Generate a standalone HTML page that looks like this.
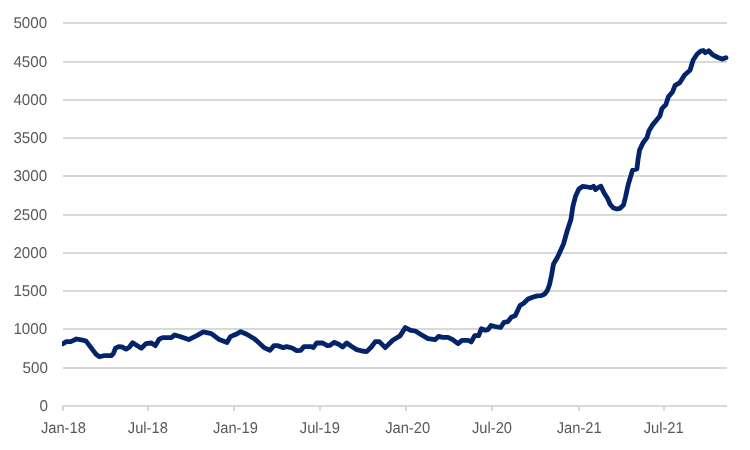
<!DOCTYPE html>
<html><head><meta charset="utf-8"><title>Chart</title>
<style>
html,body{margin:0;padding:0;background:#fff;}
body{width:750px;height:450px;overflow:hidden;}
svg{display:block;text-rendering:geometricPrecision;}
text{font-family:"Liberation Sans",sans-serif;fill:#595959;}
.yl text{font-size:15.6px;}
.xl text{font-size:15.6px;}
</style></head><body>
<svg width="750" height="450" viewBox="0 0 750 450">
<rect width="750" height="450" fill="#fff"/>
<g fill="#d9d9d9" shape-rendering="crispEdges">
<rect x="63" y="405" width="664" height="2"/>
<rect x="63" y="367" width="664" height="2"/>
<rect x="63" y="328" width="664" height="2"/>
<rect x="63" y="290" width="664" height="2"/>
<rect x="63" y="252" width="664" height="2"/>
<rect x="63" y="214" width="664" height="2"/>
<rect x="63" y="175" width="664" height="2"/>
<rect x="63" y="137" width="664" height="2"/>
<rect x="63" y="99" width="664" height="2"/>
<rect x="63" y="61" width="664" height="2"/>
<rect x="63" y="22" width="664" height="2"/>
<rect x="62" y="405" width="2" height="6"/>
<rect x="147" y="405" width="2" height="6"/>
<rect x="233" y="405" width="2" height="6"/>
<rect x="319" y="405" width="2" height="6"/>
<rect x="405" y="405" width="2" height="6"/>
<rect x="491" y="405" width="2" height="6"/>
<rect x="578" y="405" width="2" height="6"/>
<rect x="663" y="405" width="2" height="6"/>
</g>
<g class="yl" text-anchor="end">
<text transform="translate(47.9,411.0) scale(0.973,1)">0</text>
<text transform="translate(47.9,373.0) scale(0.973,1)">500</text>
<text transform="translate(47.2,334.0) scale(0.973,1)">1000</text>
<text transform="translate(47.2,296.0) scale(0.973,1)">1500</text>
<text transform="translate(47.2,258.0) scale(0.973,1)">2000</text>
<text transform="translate(47.2,220.0) scale(0.973,1)">2500</text>
<text transform="translate(47.2,181.0) scale(0.973,1)">3000</text>
<text transform="translate(47.2,143.0) scale(0.973,1)">3500</text>
<text transform="translate(47.2,105.0) scale(0.973,1)">4000</text>
<text transform="translate(47.2,67.0) scale(0.973,1)">4500</text>
<text transform="translate(47.2,28.0) scale(0.973,1)">5000</text>
</g>
<g class="xl" text-anchor="middle">
<text transform="translate(63.4,433.2) scale(0.942,1)">Jan-18</text>
<text transform="translate(147.8,433.2) scale(0.942,1)">Jul-18</text>
<text transform="translate(235.4,433.2) scale(0.942,1)">Jan-19</text>
<text transform="translate(319.8,433.2) scale(0.942,1)">Jul-19</text>
<text transform="translate(407.6,433.2) scale(0.942,1)">Jan-20</text>
<text transform="translate(492.0,433.2) scale(0.942,1)">Jul-20</text>
<text transform="translate(579.2,433.2) scale(0.942,1)">Jan-21</text>
<text transform="translate(663.7,433.2) scale(0.942,1)">Jul-21</text>
</g>
<clipPath id="c"><rect x="62.1" y="0" width="688" height="450"/></clipPath>
<path d="M59.5,344.6 L63.0,343.6 L66.4,341.6 L70.7,341.6 L76.5,339.0 L81.3,339.8 L86.1,341.1 L96.3,354.6 L99.5,356.8 L103.7,355.7 L111.2,355.7 L113.3,353.6 L115.5,348.2 L118.7,346.6 L121.9,346.8 L126.1,349.1 L129.3,347.2 L132.6,342.8 L141.3,348.3 L146.0,343.6 L151.3,343.0 L155.3,345.6 L159.3,339.0 L163.3,337.6 L171.3,337.6 L174.7,335.0 L180.7,336.7 L188.7,339.6 L196.7,335.6 L203.3,331.9 L211.3,333.6 L219.3,339.6 L227.0,342.5 L230.4,336.6 L236.0,334.3 L240.7,331.6 L246.7,334.3 L254.7,339.0 L264.0,347.6 L270.0,350.3 L274.0,345.6 L277.3,345.6 L283.3,347.6 L286.7,346.6 L292.0,348.0 L296.7,350.6 L300.7,350.3 L304.0,346.6 L310.7,346.6 L313.3,347.6 L316.7,342.9 L322.7,343.0 L327.3,345.6 L330.0,345.3 L334.0,342.3 L338.7,344.3 L342.7,347.0 L346.7,343.0 L351.3,346.3 L356.7,349.6 L362.0,351.0 L366.7,351.6 L371.3,347.0 L375.3,341.6 L379.3,341.6 L385.3,347.6 L392.7,340.3 L400.0,335.9 L405.3,327.6 L410.7,330.3 L415.3,331.0 L421.3,334.7 L428.0,338.6 L435.3,339.6 L438.7,336.3 L442.7,337.3 L448.0,337.3 L452.7,339.6 L458.0,343.6 L462.0,340.3 L468.0,340.3 L471.3,341.9 L474.7,335.6 L478.7,335.6 L481.3,328.8 L485.3,330.3 L488.0,329.6 L491.0,325.5 L494.7,326.5 L500.6,327.5 L504.0,322.3 L508.0,321.6 L511.3,317.3 L515.3,315.6 L520.0,305.6 L524.0,303.0 L528.0,299.0 L533.3,297.0 L537.3,295.9 L541.3,295.6 L544.7,294.0 L547.5,290.3 L549.6,284.3 L551.6,274.9 L553.5,264.0 L557.5,257.3 L563.5,244.0 L567.0,231.5 L570.9,219.6 L572.9,206.3 L575.5,196.3 L578.9,189.0 L582.9,186.3 L587.5,187.0 L590.9,187.6 L593.5,186.3 L595.5,189.6 L598.1,187.6 L600.9,186.3 L604.1,193.0 L607.5,198.3 L610.1,204.3 L613.5,208.0 L616.9,209.0 L620.1,208.3 L623.5,205.0 L625.5,197.0 L628.1,185.0 L630.9,175.6 L632.5,170.3 L636.9,169.0 L638.1,159.0 L639.5,150.3 L642.9,143.0 L646.9,137.6 L648.9,131.0 L652.8,124.6 L659.9,116.0 L661.9,108.6 L665.9,104.6 L668.5,96.6 L672.5,92.0 L675.1,85.3 L679.9,82.6 L684.6,75.0 L690.0,70.3 L693.2,60.0 L697.2,54.0 L700.7,51.1 L703.3,50.5 L705.3,52.8 L708.7,50.8 L712.7,54.8 L718.0,57.5 L722.0,59.1 L726.0,57.8" clip-path="url(#c)" fill="none" stroke="#03236a" stroke-width="4.8" stroke-linejoin="round" stroke-linecap="round"/>
</svg>
</body></html>
